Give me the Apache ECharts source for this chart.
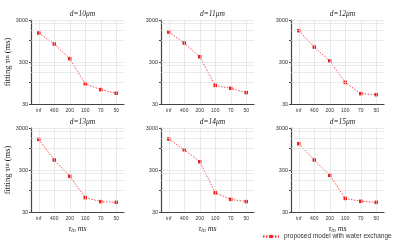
<!DOCTYPE html>
<html><head><meta charset="utf-8">
<script src="https://cdn.jsdelivr.net/npm/echarts@6/dist/echarts.min.js"></script>
<style>html,body{margin:0;padding:0;background:#fff}#c{width:400px;height:242px}</style>
</head><body><div id="c"></div>
<script>
const categories = ['inf', '400', '200', '100', '70', '50'];
const panelTitles = ['d=10μm', 'd=11μm', 'd=12μm', 'd=13μm', 'd=14μm', 'd=15μm'];
const d10 = [1470, 805, 360, 91, 66, 54];
const d11 = [1550, 850, 400, 83, 71, 56];
const d12 = [1670, 680, 317, 98, 53, 50];
const d13 = [1610, 520, 212, 66, 53, 51];
const d14 = [1640, 910, 473, 86, 60, 53];
const d15 = [1270, 520, 224, 63, 54, 51];
const yTicks = [30, 300, 3000];
const yMinorTicks = [30, 100, 300, 1000, 3000];
const gridLineValues = [3000, 2500, 1700, 1000, 300, 250, 170, 100];
const seriesName = 'proposed model with water exchange';
const panels = [d10, d11, d12, d13, d14, d15];

const lefts = [31, 161, 291];
const tops = [20, 128];
const W = 93, H = 84;
const red = '#f01e1e';
const serif = '"Liberation Serif","DejaVu Serif",serif';

const grids = [], xAxes = [], yAxes = [], series = [], titles = [];
panels.forEach((vals, i) => {
  const col = i % 3, row = Math.floor(i / 3);
  grids.push({left: lefts[col], top: tops[row], width: W, height: H});
  titles.push({
    text: panelTitles[i], left: lefts[col] + W / 2, top: tops[row] - 15, textAlign: 'center',
    textStyle: {fontFamily: serif, fontStyle: 'italic', fontWeight: 'normal', fontSize: 7.5, color: '#222'}
  });
  xAxes.push({
    type: 'category', gridIndex: i, data: categories, boundaryGap: true,
    axisLine: {lineStyle: {color: '#444', width: 1.2}},
    axisTick: {alignWithLabel: true, length: 2, lineStyle: {color: '#444'}},
    axisLabel: {fontSize: 5, color: '#333', margin: 4, fontFamily: 'Liberation Sans'},
    splitLine: {show: false},
    name: row === 1 ? 'τ{s|in} ms' : '', nameLocation: 'middle', nameGap: 12,
    nameTextStyle: {fontFamily: serif, fontStyle: 'italic', fontSize: 8, color: '#222',
      rich: {s: {fontFamily: serif, fontStyle: 'italic', fontSize: 5.5, color: '#222', verticalAlign: 'bottom', padding: [4, 0, 0, 0]}}}
  });
  yAxes.push({
    type: 'log', gridIndex: i, min: 30, max: 3000, logBase: 10,
    axisLine: {show: true, lineStyle: {color: '#444', width: 1.2}},
    axisTick: {show: true, length: 2, customValues: yMinorTicks, lineStyle: {color: '#444'}},
    axisLabel: {fontSize: 5.5, color: '#333', margin: 3, customValues: yTicks, fontFamily: 'Liberation Sans',
      formatter: v => String(Math.round(v))},
    splitLine: {show: false},
    name: col === 0 ? 'fitting τ{s|in} (ms)' : '', nameLocation: 'middle', nameGap: 19,
    nameTextStyle: {fontFamily: serif, fontSize: 8.5, color: '#222',
      rich: {s: {fontFamily: serif, fontSize: 6, color: '#222'}}}
  });
  series.push({
    type: 'line', xAxisIndex: i, yAxisIndex: i, data: [], z: 1, silent: true,
    markLine: {
      silent: true, symbol: 'none', label: {show: false}, animation: false,
      lineStyle: {color: '#dcdcdc', width: 0.6, type: 'solid'},
      data: gridLineValues.map(v => ({yAxis: v})).concat(categories.map(c => ({xAxis: c})))
    }
  });
  series.push({
    name: seriesName, type: 'line', xAxisIndex: i, yAxisIndex: i, data: vals, z: 3,
    symbol: 'rect', symbolSize: 3.5, animation: false,
    itemStyle: {color: red},
    lineStyle: {color: red, width: 0.8, type: [1.5, 1.5]}
  });
});

const chart = echarts.init(document.getElementById('c'), null, {renderer: 'canvas'});
chart.setOption({
  animation: false,
  title: titles,
  grid: grids, xAxis: xAxes, yAxis: yAxes, series: series,
  legend: {
    data: [seriesName], left: 262, top: 233, itemWidth: 16, itemHeight: 4, itemGap: 4, padding: 0,
    textStyle: {fontSize: 6.5, color: '#333', fontFamily: 'Liberation Sans'}
  }
});
</script></body></html>
